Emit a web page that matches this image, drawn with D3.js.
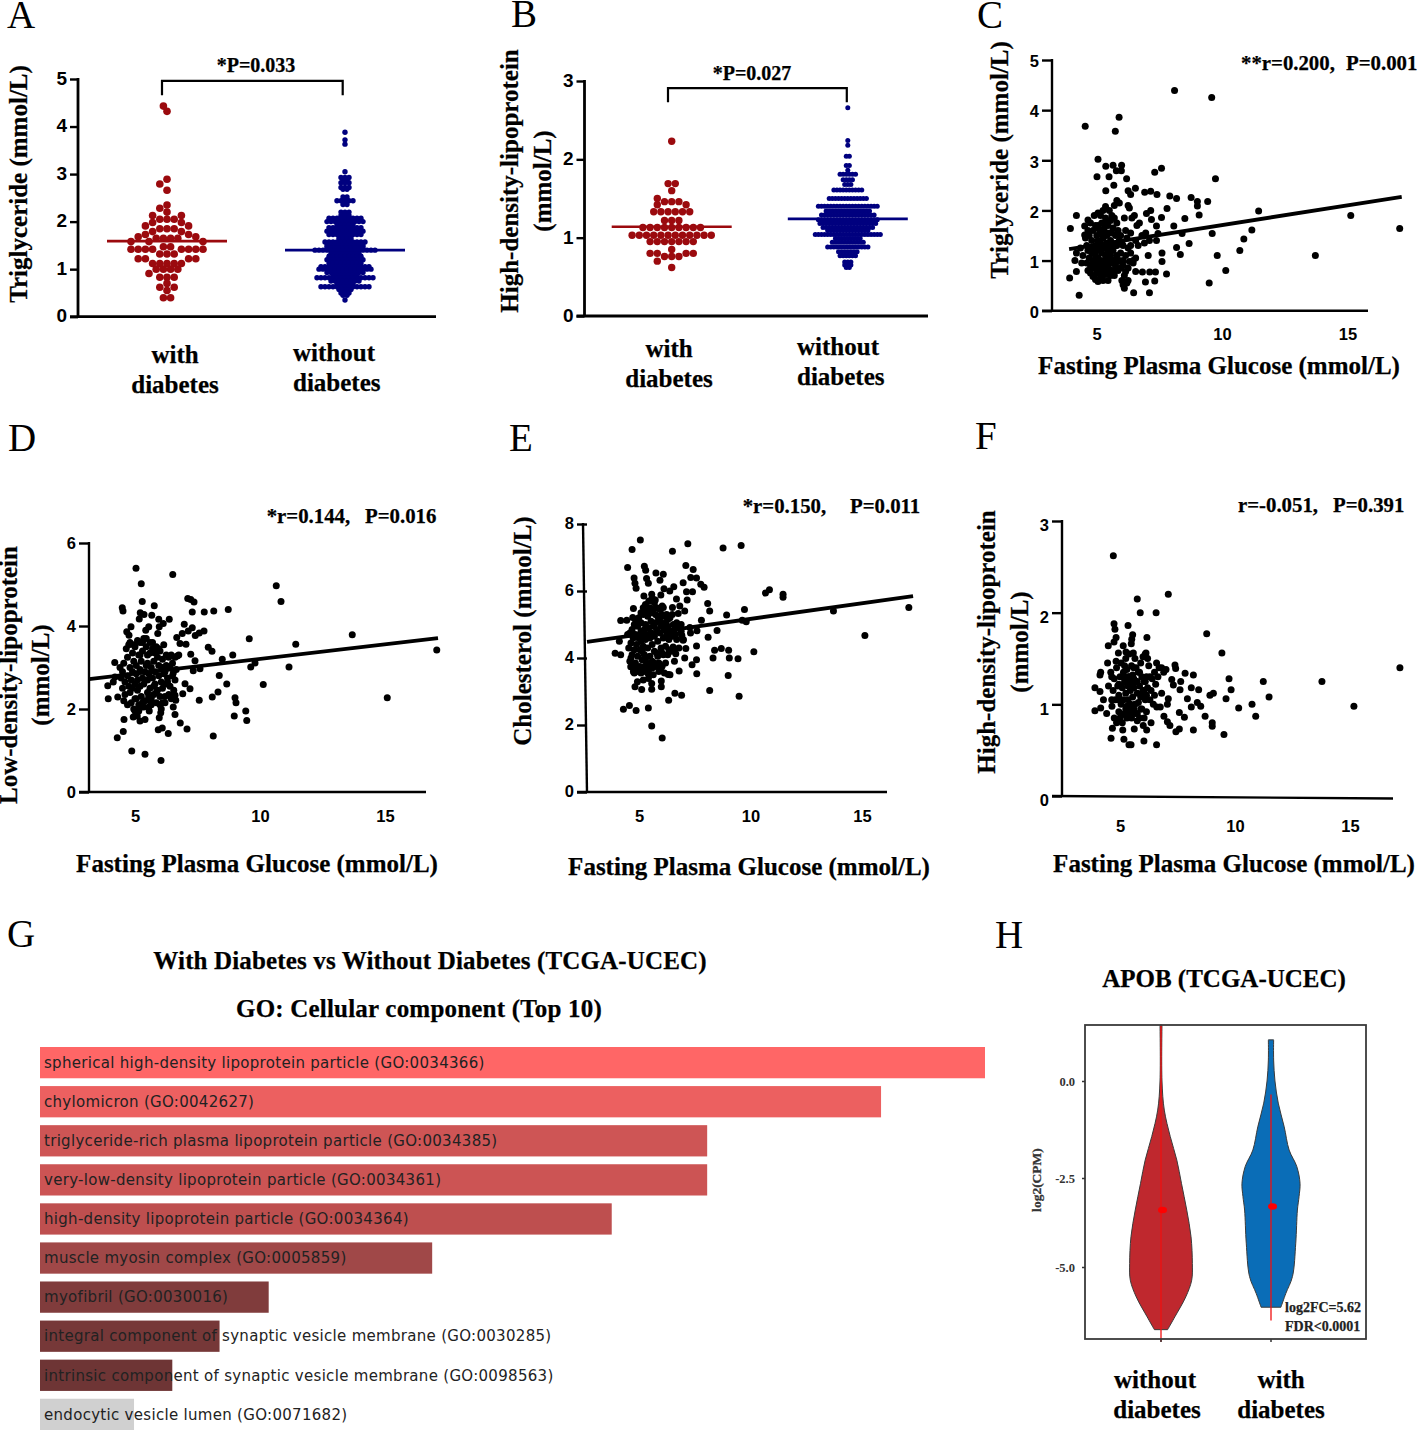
<!DOCTYPE html>
<html><head><meta charset="utf-8">
<script src="https://cdn.jsdelivr.net/npm/d3@7"></script>
<style>html,body{margin:0;padding:0;background:#fff}svg{display:block}</style>
</head><body>
<script>
// ---------- DATA ----------
const groups = ["with","without"];
// beeswarm rows: [value, number of dots in the row]; the rows nearest the centre come first
const triWith = [[4.32,1],[4.43,1],[2.89,1],[2.79,1],[2.66,1],[2.35,1],[2.2,1],[2.28,1],[2.05,3],[2.13,2],[1.98,2],[1.85,3],[1.91,2],[1.65,4],[1.79,2],[1.73,2],[1.68,2],[1.58,3],[1.47,2],[1.32,3],[1.42,8],[1.12,5],[1.22,4],[1.0,4],[.91,1],[.83,3],[.7,1],[.62,2],[.55,1],[.4,2]];
const triWithout = [[3.88,1],[3.72,1],[3.63,1],[3.05,1],[2.93,3],[2.87,2],[2.82,3],[2.72,3],[2.68,2],[2.52,2],[2.44,5],[2.36,2],[2.2,3],[2.13,3],[2.07,9],[2.0,10],[1.93,5],[1.87,9],[1.8,10],[1.73,9],[1.65,4],[1.57,11],[1.5,10],[1.45,10],[1.4,16],[1.33,8],[1.27,9],[1.2,10],[1.13,9],[1.05,13],[1.0,14],[.93,10],[.87,7],[.82,15],[.75,8],[.68,5],[.63,13],[.57,4],[.5,3],[.45,2],[.35,1]];
const hdlWith = [[2.23,1],[1.69,2],[1.6,1],[1.46,3],[1.5,1],[1.42,2],[1.33,6],[1.22,3],[1.13,9],[1.03,12],[.95,7],[.85,1],[.76,3],[.8,4],[.7,1],[.62,1]];
const hdlWithout = [[2.66,1],[2.24,1],[2.18,1],[2.04,2],[1.92,2],[1.86,1],[1.81,6],[1.74,4],[1.68,3],[1.61,10],[1.5,13],[1.4,20],[1.34,15],[1.29,18],[1.23,20],[1.18,19],[1.13,17],[1.09,14],[1.04,22],[.99,9],[.94,11],[.88,14],[.82,7],[.77,6],[.69,3],[.65,3],[.62,2]];
const triMeans = [1.59,1.4];
const hdlMeans = [1.14,1.24];

const scatterC = [[8.05,4.39],[9.53,4.25],[5.84,3.86],[4.49,3.68],[5.69,3.58],[5.0,3.02],[5.31,2.88],[5.6,2.9],[5.94,2.9],[5.73,2.79],[5.93,2.79],[4.96,2.67],[5.44,2.67],[6.14,2.63],[5.63,2.5],[5.31,2.39],[6.2,2.39],[6.3,2.32],[6.49,2.44],[6.86,2.36],[7.1,2.38],[7.35,2.32],[7.26,2.76],[7.53,2.84],[7.86,2.29],[8.13,2.24],[8.71,2.26],[8.96,2.18],[8.96,2.09],[9.37,2.18],[9.68,2.63],[11.4,1.99],[15.07,1.9],[17.02,1.64],[13.66,1.1],[11.13,1.61],[10.81,1.43],[10.65,1.2],[9.75,1.1],[10.09,.8],[9.43,.55],[9.55,1.54],[9.03,1.91],[8.46,1.84],[7.75,2.04],[8.02,1.69],[8.35,1.54],[8.63,1.34],[8.13,1.26],[8.28,1.12],[7.73,.73],[7.05,.36],[6.42,.36],[6.89,.57],[7.26,.59],[7.06,.77],[7.29,.77],[6.77,.77],[7.53,1.86],[6.93,1.94],[7.1,2.0],[7.13,1.82],[7.33,1.69],[7.39,1.54],[7.33,1.4],[7.0,1.1],[7.55,1.15],[7.55,.98],[4.14,1.9],[3.9,1.64],[3.87,.65],[4.14,.78],[4.25,.31],[4.14,1.15],[4.6,1.81],[4.47,1.69],[4.47,1.51],[4.08,1.0],
[4.5,1.45],[4.55,1.3],[4.6,1.2],[4.65,1.05],[4.7,.9],[4.7,.75],[4.75,1.4],[4.75,1.15],[4.8,1.6],[4.8,1.0],[4.8,.85],[4.85,.7],[4.85,1.9],[4.9,1.3],[4.9,1.1],[4.9,.95],[4.9,.62],[4.95,1.5],[4.95,1.2],[4.95,.8],[5.0,1.95],[5.0,1.7],[5.0,1.4],[5.0,1.05],[5.0,.9],[5.0,.58],[5.05,1.25],[5.05,.75],[5.1,1.55],[5.1,1.35],[5.1,1.0],[5.1,.85],[5.15,1.75],[5.15,1.15],[5.15,.68],[5.2,2.0],[5.2,1.45],[5.2,.95],[5.25,1.65],[5.25,1.25],[5.25,.8],[5.3,2.08],[5.3,1.85],[5.3,1.1],[5.3,.72],[5.35,1.5],[5.35,1.35],[5.35,.9],[5.4,1.7],[5.4,1.2],[5.4,1.0],[5.4,.6],[5.45,1.55],[5.45,.82],[5.5,1.8],[5.5,1.4],[5.5,1.1],[5.5,.7],[5.55,1.3],[5.55,.95],[5.6,1.65],[5.6,1.2],[5.6,.78],[5.65,2.1],[5.65,1.85],[5.65,1.0],[5.7,1.5],[5.7,.88],[5.75,2.2],[5.75,1.75],[5.75,1.3],[5.75,1.1],[5.8,.98],[5.8,.8],[5.85,2.15],[5.85,1.4],[5.9,1.5],[5.9,1.15],[5.95,1.35],[5.95,.6],[6.0,1.0],[6.0,.52],[6.0,.9],[6.05,1.85],[6.05,.45],[6.1,1.1],[6.1,.78],[6.15,1.45],[6.15,.55],[6.2,2.1],[6.2,1.25],[6.2,.6],[6.25,2.05],[6.25,.98],[6.3,1.55],[6.3,1.3],[6.35,1.85],[6.4,.95],[6.4,1.0],[6.45,1.9],[6.5,1.4],[6.5,1.05],[6.5,.78],[6.55,1.7],[6.6,1.3],[6.65,1.75],[6.75,1.5],[6.85,1.35],[6.9,1.55],[7.05,1.4],[4.4,1.1],[4.35,.95],[4.3,1.25],[4.6,.8],[4.55,.95],[4.6,1.6],[5.1,1.9],[5.2,.6],[5.45,2.0],
[4.65,1.5],[4.7,1.75],[4.75,1.25],[4.8,.68],[4.9,1.7],[5.0,1.25],[5.0,.75],[5.05,1.62],[5.1,1.2],[5.1,.7],[5.15,.9],[5.2,1.6],[5.2,.78],[5.25,1.0],[5.3,.95],[5.3,1.55],[5.35,1.75],[5.35,.75],[5.4,.85],[5.45,1.25],[5.5,.95],[5.55,1.55],[5.55,.8],[5.6,1.0],[5.65,.7],[5.7,1.3],[5.8,1.6],[5.85,1.0],[5.9,.85],[6.0,1.3],[6.05,.7],[6.1,1.6],[6.2,.85],[6.3,1.15],[4.85,1.15],[5.55,1.9]];

const scatterD = [[5.04,5.39],[6.51,5.24],[5.25,5.02],[10.65,4.97],[10.84,4.59],[5.29,4.59],[7.11,4.66],[7.23,4.64],[7.36,4.58],[4.49,4.44],[4.52,4.36],[5.77,4.49],[5.21,4.32],[5.36,4.28],[5.67,4.26],[5.17,4.17],[7.29,4.34],[7.77,4.34],[8.15,4.36],[8.73,4.4],[6.37,4.16],[5.95,4.16],[6.13,4.06],[5.97,3.98],[6.97,4.04],[7.29,3.96],[7.13,3.88],[7.76,3.88],[7.57,3.83],[7.41,3.77],[6.89,3.82],[6.67,3.72],[5.91,3.82],[4.84,3.98],[4.67,3.86],[4.76,3.78],[5.43,3.9],[5.55,3.98],[9.57,3.69],[13.69,3.79],[11.43,3.56],[17.07,3.42],[6.8,3.58],[7.04,3.56],[7.93,3.49],[8.08,3.39],[8.91,3.3],[7.23,3.32],[8.49,3.2],[4.19,3.12],[7.4,3.16],[9.8,3.11],[9.63,3.01],[11.16,3.01],[7.6,2.97],[7.33,2.92],[8.37,2.81],[10.13,2.59],[8.67,2.6],[15.09,2.27],[8.09,2.29],[8.32,2.41],[7.57,2.21],[9.0,2.27],[9.04,2.15],[9.43,1.95],[8.97,1.83],[9.47,1.72],[8.13,1.35],[7.2,2.49],[7,2.61],[6.91,2.37],[6.53,2.87],[6.69,3.28],[6.6,2.33],[6.63,2.21],[6.53,2.05],[6.6,1.87],[6.81,1.66],[7.08,1.52],[6.33,1.41],[6.09,1.54],[5.93,1.5],[6.04,.76],[5.4,.91],[4.87,.99],[4.29,1.31],[4.53,1.46],[4.56,1.75],[5.4,1.75],[5.2,1.71],[4.93,1.81],[5.09,1.83],[5.97,1.79],[6.03,1.91],[5.57,1.95],[3.93,2.25],[3.91,2.56],[4.13,2.65],[4.2,2.77],[4.31,2.29],
[4.4,3.0],[4.45,2.75],[4.5,2.5],[4.5,2.9],[4.55,3.1],[4.6,2.65],[4.6,2.35],[4.65,3.45],[4.7,3.25],[4.7,2.8],[4.75,2.55],[4.75,3.55],[4.8,3.0],[4.8,2.4],[4.85,2.15],[4.85,2.7],[4.9,3.35],[4.9,2.9],[4.95,2.0],[4.95,3.15],[5.0,2.6],[5.0,3.5],[5.0,2.25],[5.05,2.85],[5.05,3.05],[5.1,2.45],[5.1,2.7],[5.15,3.3],[5.15,2.1],[5.2,2.95],[5.2,3.6],[5.2,2.55],[5.25,2.3],[5.25,3.15],[5.3,2.75],[5.3,3.4],[5.35,2.6],[5.35,3.7],[5.4,2.9],[5.4,2.2],[5.45,3.05],[5.45,3.5],[5.5,2.4],[5.5,2.7],[5.5,3.3],[5.55,2.05],[5.55,2.85],[5.6,3.6],[5.6,2.5],[5.65,3.0],[5.65,2.25],[5.7,2.75],[5.7,3.45],[5.75,2.35],[5.75,3.15],[5.8,2.6],[5.8,2.9],[5.85,3.5],[5.85,2.15],[5.9,2.45],[5.9,3.25],[5.95,2.8],[5.95,3.05],[6.0,2.3],[6.0,3.4],[6.05,2.65],[6.05,2.0],[6.1,3.2],[6.1,2.5],[6.15,2.85],[6.15,3.55],[6.2,2.3],[6.25,3.3],[6.25,2.6],[6.3,2.75],[6.35,3.25],[6.4,2.55],[6.45,3.3],[6.5,2.8],[6.55,2.45],[6.6,3.25],[6.65,2.95],[6.75,3.3],[6.2,2.15],[6.3,2.65],
[4.55,2.2],[4.7,2.1],[4.8,3.6],[4.9,2.5],[4.95,3.55],[5.0,1.95],[5.1,3.65],[5.15,1.95],[5.2,3.3],[5.25,2.05],[5.3,3.6],[5.35,2.05],[5.45,3.7],[5.5,3.1],[5.55,2.3],[5.6,3.35],[5.65,2.1],[5.7,3.6],[5.75,2.55],[5.8,3.35],[5.85,2.4],[5.95,3.45],[6.0,2.1],[6.1,3.0],[6.2,2.9],[6.25,3.05],[6.35,2.35],[6.4,3.0],[6.5,3.1],[6.6,2.7],[5.05,2.25],[5.3,2.15],[5.6,2.2],[6.1,2.15],[6.45,2.25]];

const scatterE = [[4.97,7.52],[4.6,7.24],[6.41,7.19],[7.1,7.41],[8.68,7.28],[9.49,7.36],[4.4,6.7],[7.01,6.76],[5.15,6.74],[5.21,6.62],[7.34,6.64],[5.67,6.54],[6,6.5],[5.85,6.32],[4.69,6.39],[4.73,6.23],[4.78,6.08],[5.25,6.37],[5.33,6.23],[7.23,6.4],[7.49,6.39],[6.89,6.25],[7.68,6.2],[7.83,6.11],[6.47,6.13],[6.03,6.07],[6.29,6.0],[7.04,5.98],[7.31,5.98],[10.58,5.94],[10.76,6.04],[11.37,5.9],[11.37,5.81],[5.13,5.85],[5.48,5.9],[5.89,5.88],[6.59,5.76],[7.07,5.73],[5.64,5.73],[7.99,5.63],[8.08,5.4],[9.64,5.45],[17.01,5.51],[13.63,5.4],[15.04,4.67],[8.84,5.28],[6.41,5.51],[6.74,5.55],[6.96,5.4],[6.67,5.33],[6,5.51],[6.15,5.23],[4.66,5.48],[4.09,5.12],[4.36,5.13],[4.63,5.21],[7.71,5.13],[9.54,5.13],[9.72,5.08],[8.41,4.82],[8.01,4.62],[7.51,4.81],[7.19,4.91],[7.22,4.75],[6.83,4.68],[6.89,4.53],[7.49,4.36],[7.01,4.28],[6.44,4.33],[6.37,4.2],[6.56,4.13],[8.3,4.23],[8.6,4.28],[8.93,4.23],[10.06,4.19],[8.23,4.0],[8.96,4.0],[9.35,3.98],[6.96,4.0],[7.49,3.95],[7.29,3.8],[7.5,3.53],[6.71,3.61],[8.91,3.48],[6.22,3.51],[5.95,3.76],[8.08,3.03],[9.4,2.86],[6.52,2.95],[6.82,2.89],[6.24,2.74],[5.91,3.31],[5.91,3.14],[5.48,3.24],[5.48,3.07],[5.03,3.06],[4.73,3.14],[4.84,3.29],[5.1,3.34],[5.33,3.39],[5.33,2.51],[4.48,2.58],[4.21,2.47],[4.78,2.43],[5.48,1.97],[5.95,1.61],[3.84,4.14],[4.09,4.1],[4.03,4.5],[4.54,3.74],[4.66,3.59],
[4.4,4.7],[4.45,4.3],[4.5,3.9],[4.5,4.75],[4.55,4.45],[4.6,4.1],[4.6,4.85],[4.65,3.7],[4.65,4.6],[4.7,4.25],[4.7,5.0],[4.75,3.85],[4.75,4.7],[4.8,4.4],[4.8,3.6],[4.85,4.95],[4.85,4.05],[4.9,4.6],[4.9,5.2],[4.95,4.25],[4.95,3.75],[5.0,4.8],[5.0,4.5],[5.0,5.05],[5.05,3.95],[5.05,4.65],[5.1,5.3],[5.1,4.35],[5.1,3.6],[5.15,4.85],[5.15,4.1],[5.2,5.6],[5.2,4.55],[5.2,5.0],[5.25,3.85],[5.25,4.7],[5.3,5.25],[5.3,4.3],[5.35,4.9],[5.35,3.65],[5.4,5.5],[5.4,4.6],[5.4,4.05],[5.45,5.1],[5.45,4.75],[5.5,3.9],[5.5,5.8],[5.5,4.4],[5.55,4.95],[5.55,3.5],[5.6,5.65],[5.6,4.2],[5.6,4.65],[5.65,5.3],[5.65,3.75],[5.7,4.85],[5.7,5.5],[5.75,4.05],[5.75,4.5],[5.8,5.15],[5.8,3.6],[5.85,4.75],[5.85,5.45],[5.9,4.3],[5.9,4.95],[5.95,5.55],[5.95,4.15],[6.0,4.6],[6.0,5.25],[6.05,4.85],[6.05,3.55],[6.1,5.05],[6.1,4.35],[6.15,5.3],[6.15,4.7],[6.2,4.95],[6.2,4.1],[6.25,4.55],[6.3,5.2],[6.3,3.5],[6.35,4.8],[6.4,4.65],[6.45,5.0],[6.5,4.85],[6.5,4.25],[6.55,4.7],[6.6,4.55],[6.7,4.9],[6.8,4.8],[6.9,4.55],
[4.55,4.0],[4.7,3.55],[4.75,5.15],[4.85,3.7],[4.9,5.05],[5.0,3.55],[5.0,5.35],[5.05,4.2],[5.1,5.5],[5.15,3.75],[5.2,3.95],[5.25,5.4],[5.3,3.55],[5.35,5.7],[5.4,3.8],[5.45,5.35],[5.5,3.7],[5.55,5.45],[5.6,3.85],[5.65,5.05],[5.7,4.15],[5.75,5.25],[5.8,3.85],[5.85,5.1],[5.9,3.7],[5.95,5.3],[6.0,4.1],[6.1,3.85],[6.2,5.15],[6.25,4.25],[6.3,4.75],[6.4,5.3],[6.5,3.9],[6.6,5.05],[6.7,4.3],[6.8,5.0]];

const scatterF = [[4.71,2.62],[7.1,2.2],[5.75,2.15],[5.88,2.0],[6.57,2.0],[4.74,1.88],[4.78,1.82],[5.35,1.86],[8.77,1.77],[5.55,1.76],[5.51,1.71],[6.17,1.73],[4.83,1.73],[4.74,1.68],[4.49,1.64],[5.49,1.66],[5.14,1.64],[9.43,1.56],[6.13,1.56],[5.58,1.56],[4.93,1.56],[5.26,1.57],[4.46,1.45],[4.83,1.47],[6.59,1.45],[6.81,1.4],[7.39,1.43],[7.42,1.39],[7.83,1.34],[8.19,1.32],[9.74,1.28],[11.23,1.25],[13.78,1.25],[17.17,1.4],[15.17,.98],[11.48,1.08],[10.74,1.0],[10.9,.87],[10.16,.96],[9.83,1.16],[9.61,1.06],[9.06,1.12],[8.91,1.1],[8.42,1.16],[8.1,1.18],[7.64,1.25],[7.61,1.16],[7.25,1.27],[7.32,1.21],[6.81,1.12],[7.1,1.06],[7.06,1.0],[7.93,1.06],[8.1,.97],[8.36,1.02],[8.51,.98],[8.7,.87],[7.58,.91],[7.8,.86],[9.01,.8],[9.01,.76],[9.52,.67],[8.19,.72],[7.58,.73],[7.43,.7],[7.17,.77],[7.06,.81],[6.91,.87],[6.59,.56],[6.04,.6],[5.48,.56],[5.39,.56],[5.17,.62],[4.61,.63],[5.12,.72],[5.62,.73],[6.16,.72],[6.35,.8],[6.01,.77],[3.91,1.18],[3.91,.93],[4.16,.96],[4.28,1.05],[4.13,1.14],[4.16,1.35],[4.13,1.32],[4.42,.9],[4.64,1.05],[4.67,.74],[4.64,1.3],
[4.5,1.2],[4.6,1.35],[4.65,.98],[4.7,1.15],[4.75,.85],[4.75,1.28],[4.8,1.05],[4.85,1.4],[4.85,.8],[4.9,1.2],[4.95,.92],[4.95,1.1],[5.0,1.3],[5.0,.85],[5.05,1.45],[5.05,1.0],[5.1,1.18],[5.1,.8],[5.15,1.35],[5.15,1.05],[5.2,.9],[5.2,1.25],[5.25,1.5],[5.25,1.12],[5.3,.98],[5.3,.85],[5.3,1.38],[5.35,1.2],[5.35,1.05],[5.4,1.3],[5.4,.92],[5.4,1.55],[5.45,1.15],[5.45,1.0],[5.5,1.25],[5.5,.85],[5.5,1.42],[5.55,1.08],[5.55,1.32],[5.6,.95],[5.6,1.18],[5.65,1.5],[5.65,1.0],[5.7,1.25],[5.7,1.4],[5.75,.9],[5.75,1.12],[5.8,1.35],[5.8,1.02],[5.85,.85],[5.85,1.2],[5.9,1.45],[5.9,1.08],[5.95,1.3],[5.95,.95],[6.0,1.15],[6.0,1.52],[6.05,.85],[6.05,1.25],[6.1,1.05],[6.1,1.55],[6.15,1.3],[6.15,.92],[6.2,1.18],[6.2,1.5],[6.3,1.3],[6.3,1.05],[6.4,1.28],[6.45,1.0],[6.5,1.1],[6.55,1.22],[6.6,.97],[6.65,1.3],[6.7,1.4],[6.75,.97],[6.9,1.35],[7.0,1.38],
[4.95,1.22],[5.05,1.2],[5.1,1.3],[5.25,1.25],[5.25,.95],[5.35,1.3],[5.35,.92],[5.45,1.28],[5.45,.88],[5.55,.95],[5.55,1.22],[5.6,1.28],[5.65,.9],[5.75,1.25],[5.85,1.35],[5.9,.95],[5.95,1.12],[6.05,1.15],[6.1,1.25],[6.15,1.1],[5.2,1.42],[5.6,1.4],[4.9,1.05],[6.25,1.42],[6.35,1.15],[6.5,1.35],[5.05,.88],[5.75,.82]];

const fitC = [[3.85,1.23],[17.1,2.27]];
const fitD = [[3.16,2.72],[17.12,3.71]];
const fitE = [[2.58,4.48],[17.2,5.85]];

const goTerms = ["spherical high-density lipoprotein particle (GO:0034366)","chylomicron (GO:0042627)","triglyceride-rich plasma lipoprotein particle (GO:0034385)","very-low-density lipoprotein particle (GO:0034361)","high-density lipoprotein particle (GO:0034364)","muscle myosin complex (GO:0005859)","myofibril (GO:0030016)","integral component of synaptic vesicle membrane (GO:0030285)","intrinsic component of synaptic vesicle membrane (GO:0098563)","endocytic vesicle lumen (GO:0071682)"];
const goScores = [100,89,70.6,70.6,60.5,41.5,24.2,19,14,9.95];
const goColors = ["#ff6666","#ec6060","#ce5555","#cc5454","#be4f4f","#a04848","#803c3c","#763838","#6e3535","#d0d0d0"];

const violinLevels = ["without","with"];
const violinWithoutY = [1.44,0,-.75,-1.43,-2.04,-2.65,-3.4,-4.15,-4.9,-5.37,-5.84,-6.4,-6.76];
const violinWithoutD = [.03,.03,.1,.28,.48,.62,.78,.91,.95,.93,.75,.42,.2];
const violinWithY = [1.06,.54,0,-.57,-1.18,-1.78,-2.2,-2.65,-3.02,-3.4,-4.33,-5.27,-5.74,-6.13];
const violinWithD = [.08,.08,.12,.22,.4,.55,.78,.88,.85,.8,.75,.65,.45,.3];
const violinMedian = [-3.4,-3.3];
const violinRange = [[1.44,-7.1],[-.35,-6.5]];

// ---------- HELPERS ----------
const SERIF = "'Liberation Serif','Times New Roman',serif", SANS = "'Liberation Sans',Arial,sans-serif";
const svg = d3.select("body").append("svg").attr("width",1417).attr("height",1438);
function txt(x,y,s,o={}){
  const t = svg.append("text").attr("x",x).attr("y",y).text(s)
    .attr("font-family",o.family||SERIF).attr("font-size",o.size||25)
    .attr("font-weight",o.weight||"bold").attr("text-anchor",o.anchor||"start").attr("fill",o.fill||"#000");
  if(o.rot) t.attr("transform",`rotate(-90 ${x} ${y})`);
  if(o.ls) t.attr("letter-spacing",o.ls);
  if((o.weight||"bold")==="bold") t.attr("stroke",o.fill||"#000").attr("stroke-width",.25);
  return t;
}
[["A",7,28],["B",511,27],["C",977,28],["D",8,451],["E",509,451],["F",975,449],["G",7,947],["H",995,948]]
  .forEach(d=>txt(d[1],d[2],d[0],{size:39,weight:"normal"}));

function yAxisDraw(g,y,ticks,size,tick,pad,labelDy){
  g.call(d3.axisLeft(y).tickValues(ticks).tickSize(tick).tickPadding(pad).tickFormat(d3.format("d")));
  g.select(".domain").remove();
  g.selectAll(".tick line").attr("stroke","#000").attr("stroke-width",2.4);
  g.selectAll(".tick text").attr("font-family",SANS).attr("font-weight","bold").attr("font-size",size).attr("fill","#000")
    .attr("transform",`translate(0,${labelDy})`);
}

// ---------- SWARMS ----------
// rows are placed in list order, each slotting symmetrically around the ones already there
function collisionSwarm(rows,y,d){
  const placed=[], free=(v,o)=>placed.every(p=>Math.hypot(p.o-o,y(p.v)-y(v))>=d*.85);
  rows.forEach(([v,n])=>{
    let left=n;
    if(n%2){ for(let k=0;;k+=.5){ const s=[-k*d,k*d].find(o=>free(v,o)); if(s!==undefined){placed.push({v,o:s});break;} } left--; }
    while(left>0){ for(let k=(n%2?1:.5);;k+=.5){ if(free(v,k*d)&&free(v,-k*d)){placed.push({v,o:k*d},{v,o:-k*d});break;} } left-=2; }
  });
  return placed;
}
function rowSwarm(rows,d){
  return rows.flatMap(([v,n])=>d3.range(n).map(i=>({v,o:(i-(n-1)/2)*d})));
}
function swarmPanel(c){
  const x=d3.scalePoint().domain(groups).range(c.centers);
  const y=d3.scaleLinear().domain([0,c.yMax]).range([c.y0,c.yTop]);
  const g=svg.append("g");
  const sets=[{pts:collisionSwarm(c.rows[0],y,c.dWith),r:c.rWith,col:"#9b0a0e",k:groups[0]},
              {pts:rowSwarm(c.rows[1],c.dWithout),r:c.rWithout,col:"#00007f",k:groups[1]}];
  sets.forEach(s=>g.append("g").selectAll("circle").data(s.pts).join("circle")
    .attr("cx",d=>x(s.k)+d.o).attr("cy",d=>y(d.v)).attr("r",s.r).attr("fill",s.col));
  g.selectAll("line.mean").data(groups).join("line").attr("class","mean")
    .attr("x1",k=>x(k)-60).attr("x2",k=>x(k)+60)
    .attr("y1",(k,i)=>y(c.means[i])).attr("y2",(k,i)=>y(c.means[i]))
    .attr("stroke",(k,i)=>sets[i].col).attr("stroke-width",2.6);
  yAxisDraw(g.append("g").attr("transform",`translate(${c.axisX},0)`),y,c.ticks,19,8,3,c.labelDy);
  g.append("line").attr("x1",c.axisX).attr("x2",c.axisX).attr("y1",y(c.yMax)-1).attr("y2",y(0)+1).attr("stroke","#000").attr("stroke-width",2.8);
  g.append("line").attr("x1",c.axisX-8).attr("x2",c.axisEnd).attr("y1",y(0)).attr("y2",y(0)).attr("stroke","#000").attr("stroke-width",2.8);
  const bx=[x(groups[0])+c.br[0],x(groups[1])+c.br[1]];
  g.append("path").attr("fill","none").attr("stroke","#000").attr("stroke-width",2.2)
    .attr("d",d3.line()([[bx[0],y(c.brV[0])],[bx[0],y(c.brV[1])],[bx[1],y(c.brV[1])],[bx[1],y(c.brV[0])]]));
}
swarmPanel({rows:[triWith,triWithout],means:triMeans,centers:[167,345],yMax:5,y0:316.7,yTop:79,axisX:78,axisEnd:436,ticks:[0,1,2,3,4,5],dWith:7.2,dWithout:4,rWith:3.8,rWithout:2.7,br:[-5,-2.3],brV:[4.66,4.96],labelDy:-1});
swarmPanel({rows:[hdlWith,hdlWithout],means:hdlMeans,centers:[671.7,847.8],yMax:3,y0:316,yTop:81,axisX:584.5,axisEnd:928,ticks:[0,1,2,3],dWith:7.2,dWithout:3.1,rWith:3.7,rWithout:2.5,br:[-3.7,-1],brV:[2.73,2.91],labelDy:-.5});

txt(256,72,"*P=0.033",{size:20,anchor:"middle"});
txt(752,80,"*P=0.027",{size:20,anchor:"middle"});
txt(175,363,"with",{anchor:"middle"});txt(175,393,"diabetes",{anchor:"middle"});
txt(293,361,"without");txt(293,391,"diabetes");
txt(669,357,"with",{anchor:"middle"});txt(669,387,"diabetes",{anchor:"middle"});
txt(797,355,"without");txt(797,385,"diabetes");
txt(27,184,"Triglyceride (mmol/L)",{rot:1,anchor:"middle"});
txt(518,181,"High-density-lipoprotein",{rot:1,anchor:"middle"});
txt(551,181,"(mmol/L)",{rot:1,anchor:"middle"});

// ---------- SCATTERS ----------
function scatterPanel(c){
  const x=d3.scaleLinear().domain([5,15]).range(c.xr);
  const y=d3.scaleLinear().domain([0,c.yMax]).range([c.y0,c.yTop]);
  const g=svg.append("g");
  g.append("g").selectAll("circle").data(c.data).join("circle")
    .attr("cx",d=>x(d[0])).attr("cy",d=>y(d[1])).attr("r",3.5).attr("fill","#000");
  if(c.fit) g.append("path").attr("fill","none").attr("stroke","#000").attr("stroke-width",3.8)
    .attr("d",d3.line().x(d=>x(d[0])).y(d=>y(d[1]))(c.fit));
  yAxisDraw(g.append("g").attr("transform",`translate(${c.axisX},0)`),y,c.ticks,16.5,10,3,c.labelDy);
  g.append("line").attr("x1",c.axisTopX||c.axisX).attr("x2",c.axisX).attr("y1",y(c.yMax)-1).attr("y2",y(0)+1).attr("stroke","#000").attr("stroke-width",2.4);
  g.append("line").attr("x1",c.axisX-10).attr("x2",c.axisEnd).attr("y1",y(0)).attr("y2",y(0)+(c.tilt||0)).attr("stroke","#000").attr("stroke-width",2.4);
  const xg=g.append("g").attr("transform",`translate(${c.xLabelDx||0},${c.xLabelY})`);
  xg.call(d3.axisBottom(x).tickValues([5,10,15]).tickSize(0).tickPadding(0));
  xg.select(".domain").remove();
  xg.selectAll(".tick text").attr("font-family",SANS).attr("font-weight","bold").attr("font-size",16.5).attr("fill","#000");
}
scatterPanel({data:scatterC,fit:fitC,xr:[1098,1349],yMax:5,y0:310.7,yTop:60,axisX:1052,axisEnd:1368,ticks:[0,1,2,3,4,5],xLabelY:328,xLabelDx:-1.5,labelDy:1.5});
scatterPanel({data:scatterD,fit:fitD,xr:[135,385],yMax:6,y0:792,yTop:543,axisX:89,axisEnd:426,ticks:[0,2,4,6],xLabelY:810,labelDy:.5});
scatterPanel({data:scatterE,fit:fitE,xr:[641,864],yMax:8,y0:792,yTop:524,axisX:587,axisTopX:583,axisEnd:887,ticks:[0,2,4,6,8],xLabelY:810,xLabelDx:-2,labelDy:-1});
scatterPanel({data:scatterF,xr:[1120,1350],yMax:3,y0:796,yTop:521,axisX:1062,axisEnd:1393,tilt:2.5,ticks:[0,1,2,3],xLabelY:820,labelDy:4.5});

[[1219,374],[257,872],[749,875],[1234,872]].forEach(p=>txt(p[0],p[1],"Fasting Plasma Glucose (mmol/L)",{anchor:"middle"}));
txt(1008,160,"Triglyceride (mmol/L)",{rot:1,anchor:"middle"});
txt(17,675,"Low-density-lipoprotein",{rot:1,anchor:"middle"});
txt(49,675,"(mmol/L)",{rot:1,anchor:"middle"});
txt(531,631,"Cholesterol (mmol/L)",{rot:1,anchor:"middle"});
txt(995,642,"High-density-lipoprotein",{rot:1,anchor:"middle"});
txt(1028,642,"(mmol/L)",{rot:1,anchor:"middle"});
[[1241,1346,70,"**r=0.200,","P=0.001"],[266.7,365,523,"*r=0.144,","P=0.016"],[742.7,850,513,"*r=0.150,","P=0.011"],[1238,1333,512,"r=-0.051,","P=0.391"]]
 .forEach(d=>{txt(d[0],d[2],d[3],{size:20.8});txt(d[1],d[2],d[4],{size:20.8});});

// ---------- GO BARS ----------
txt(430,969,"With Diabetes vs Without Diabetes (TCGA-UCEC)",{anchor:"middle",ls:.15});
txt(419,1017,"GO: Cellular component (Top 10)",{anchor:"middle",ls:.2});
const bx=d3.scaleLinear().domain([0,100]).range([40,985]);
const by=d3.scaleBand().domain(goTerms).range([1047,1430]).paddingInner(.2).paddingOuter(0);
const gb=svg.append("g");
gb.selectAll("rect").data(goTerms).join("rect").attr("x",bx(0)).attr("y",d=>by(d))
  .attr("width",(d,i)=>bx(goScores[i])-bx(0)).attr("height",by.bandwidth()).attr("fill",(d,i)=>goColors[i]);
gb.selectAll("text").data(goTerms).join("text").attr("x",44).attr("y",d=>by(d)+by.bandwidth()/2).attr("dy",".35em")
  .attr("font-family","'DejaVu Sans',sans-serif").attr("font-size",15).attr("letter-spacing",.3).attr("fill","#222").text(d=>d);

// ---------- VIOLIN ----------
txt(1224,987,"APOB (TCGA-UCEC)",{anchor:"middle"});
const vx=d3.scalePoint().domain(violinLevels).range([1161,1271]);
const vy=d3.scaleLinear().domain([-5,-2.5,0]).range([1267,1178,1081]);
const vw=d3.scaleLinear().domain([0,1]).range([0,33]);
const gv=svg.append("g");
const vArea=(ys,ds,k)=>d3.area().curve(d3.curveCatmullRom).y((d,i)=>vy(ys[i]))
  .x0((d,i)=>vx(k)-vw(ds[i])).x1((d,i)=>vx(k)+vw(ds[i]))(ys);
[[violinWithoutY,violinWithoutD,"without","#bf282e"],[violinWithY,violinWithD,"with","#0a6db7"]].forEach(v=>{
  gv.append("path").attr("d",vArea(v[0],v[1],v[2])+"Z").attr("fill",v[3]).attr("stroke","#3a3a3a").attr("stroke-width",1);
});
violinLevels.forEach((k,i)=>{
  gv.append("line").attr("x1",vx(k)).attr("x2",vx(k)).attr("y1",vy(violinRange[i][0])).attr("y2",vy(violinRange[i][1])).attr("stroke","#f01010").attr("stroke-width",1.3);
  gv.append("ellipse").attr("cx",vx(k)+1.5).attr("cy",vy(violinMedian[i])).attr("rx",4.5).attr("ry",3.2).attr("fill","#f00");
  gv.append("line").attr("x1",vx(k)).attr("x2",vx(k)).attr("y1",1339).attr("y2",1342).attr("stroke","#333").attr("stroke-width",1.5);
});
gv.append("rect").attr("x",1085).attr("y",1025).attr("width",281).attr("height",314).attr("fill","none").attr("stroke","#3a3a3a").attr("stroke-width",1.8);
const vg=gv.append("g").attr("transform","translate(1085,0)");
vg.call(d3.axisLeft(vy).tickValues([0,-2.5,-5]).tickSize(3).tickPadding(7).tickFormat(d=>d3.format(".1f")(d).replace("\u2212","-")));
vg.select(".domain").remove();
vg.selectAll(".tick line").attr("stroke","#333").attr("stroke-width",1.5);
vg.selectAll(".tick text").attr("font-family",SERIF).attr("font-weight","bold").attr("font-size",12.5).attr("fill","#333");
txt(1041,1180,"log2(CPM)",{rot:1,anchor:"middle",size:13.5,fill:"#333"});
txt(1285,1312,"log2FC=5.62",{size:14,fill:"#222"});
txt(1285,1331,"FDR<0.0001",{size:14,fill:"#222"});
txt(1155,1388,"without",{anchor:"middle"});txt(1157,1418,"diabetes",{anchor:"middle"});
txt(1281,1388,"with",{anchor:"middle"});txt(1281,1418,"diabetes",{anchor:"middle"});
</script>
</body></html>
